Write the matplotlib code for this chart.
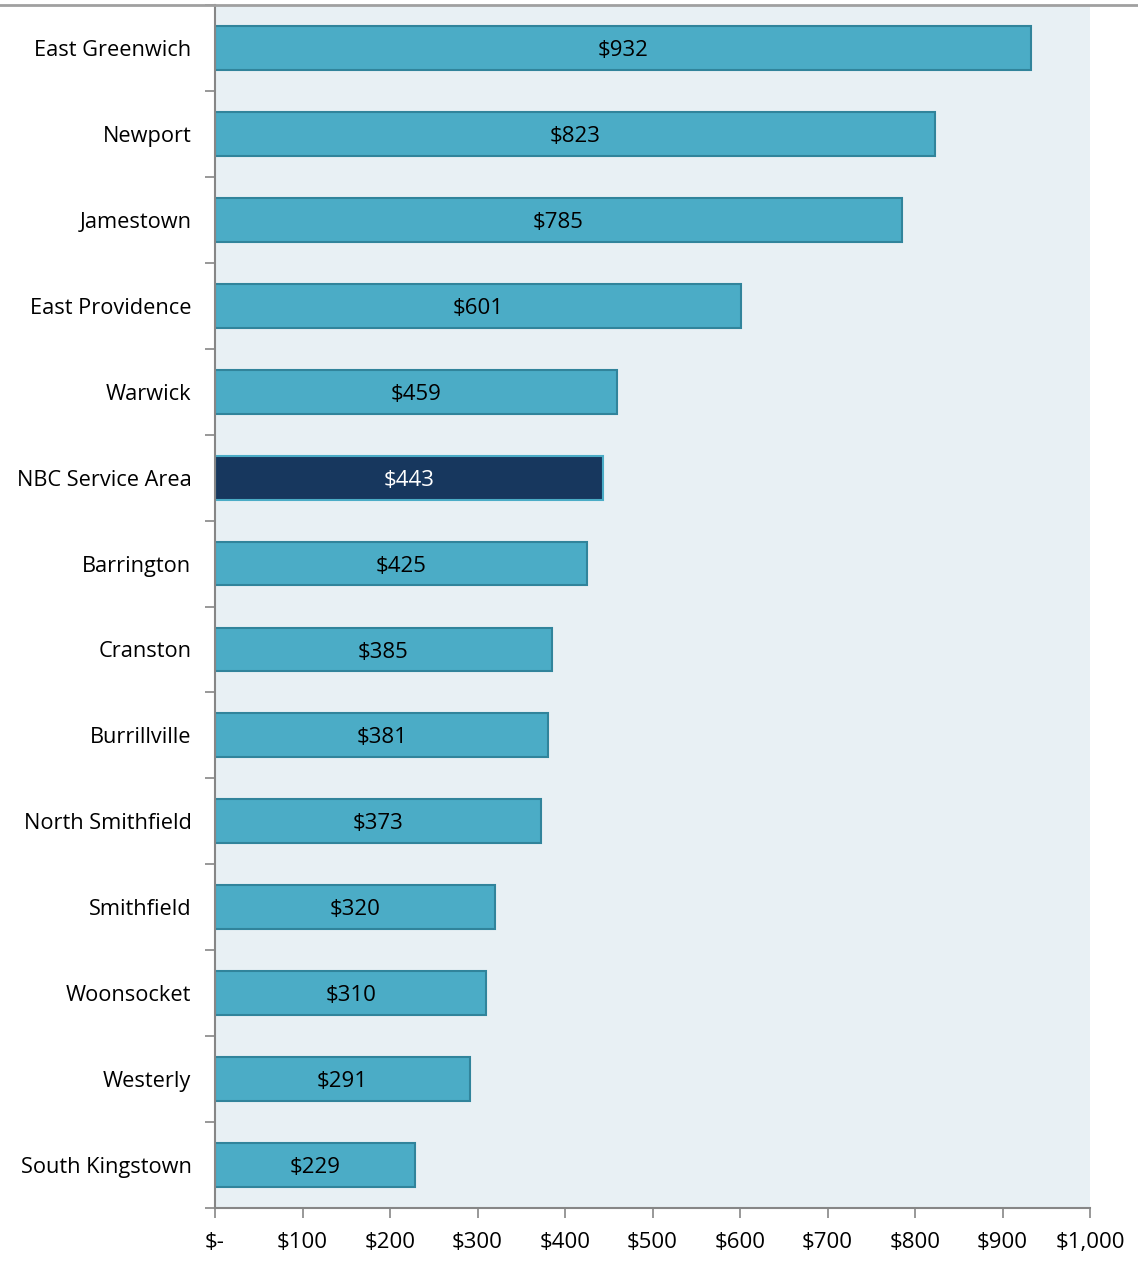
import matplotlib
matplotlib.use("Agg")
import matplotlib.pyplot as plt
from matplotlib.lines import Line2D

categories = ["East Greenwich", "Newport", "Jamestown", "East Providence", "Warwick",
              "NBC Service Area", "Barrington", "Cranston", "Burrillville", "North Smithfield",
              "Smithfield", "Woonsocket", "Westerly", "South Kingstown"]
values = [932, 823, 785, 601, 459, 443, 425, 385, 381, 373, 320, 310, 291, 229]
highlight = "NBC Service Area"
xticks = [0, 100, 200, 300, 400, 500, 600, 700, 800, 900, 1000]
xticklabels = ["$-", "$100", "$200", "$300", "$400", "$500", "$600", "$700", "$800", "$900", "$1,000"]

plt.rcParams['font.family'] = ['Open Sans', 'DejaVu Sans']

fig = plt.figure(figsize=(11.38, 12.76), dpi=100)
ax = fig.add_axes([215/1138, 1 - 1208/1276, (1090-215)/1138, (1208-5)/1276])
ax.set_facecolor("#E8F0F4")

n = len(categories)
ypos = list(range(n))
colors = ["#17375E" if c == highlight else "#4BACC6" for c in categories]
edges = ["#4BACC6" if c == highlight else "#31849B" for c in categories]
ax.barh(ypos, values, height=0.51, color=colors, edgecolor=edges, linewidth=1.5, zorder=2)

for y, v, c in zip(ypos, values, categories):
    ax.text(v / 2, y + 0.03, f"${v}", ha="center", va="center", fontsize=16,
            color="white" if c == highlight else "black", zorder=3)

ax.set_ylim(n - 0.5, -0.5)
ax.set_xlim(0, 1000)
ax.set_yticks(ypos)
ax.set_yticklabels(categories, fontsize=15.7)
ax.set_yticks([i + 0.5 for i in range(-1, n)], minor=True)
ax.tick_params(axis="y", which="major", length=0, pad=17)
ax.tick_params(axis="y", which="minor", length=7, color="#868686", width=1.2)
ax.set_xticks(xticks)
ax.set_xticklabels(xticklabels, fontsize=16)
ax.tick_params(axis="x", length=7, color="#868686", width=1.2, pad=10)

for s in ["top", "right"]:
    ax.spines[s].set_visible(False)
for s in ["left", "bottom"]:
    ax.spines[s].set_color("#868686")
    ax.spines[s].set_linewidth(1.5)

fig.add_artist(Line2D([0, 1], [1 - 5/1276, 1 - 5/1276], transform=fig.transFigure,
                      color="#A0A0A0", linewidth=2))

fig.savefig("out.png", dpi=100)
